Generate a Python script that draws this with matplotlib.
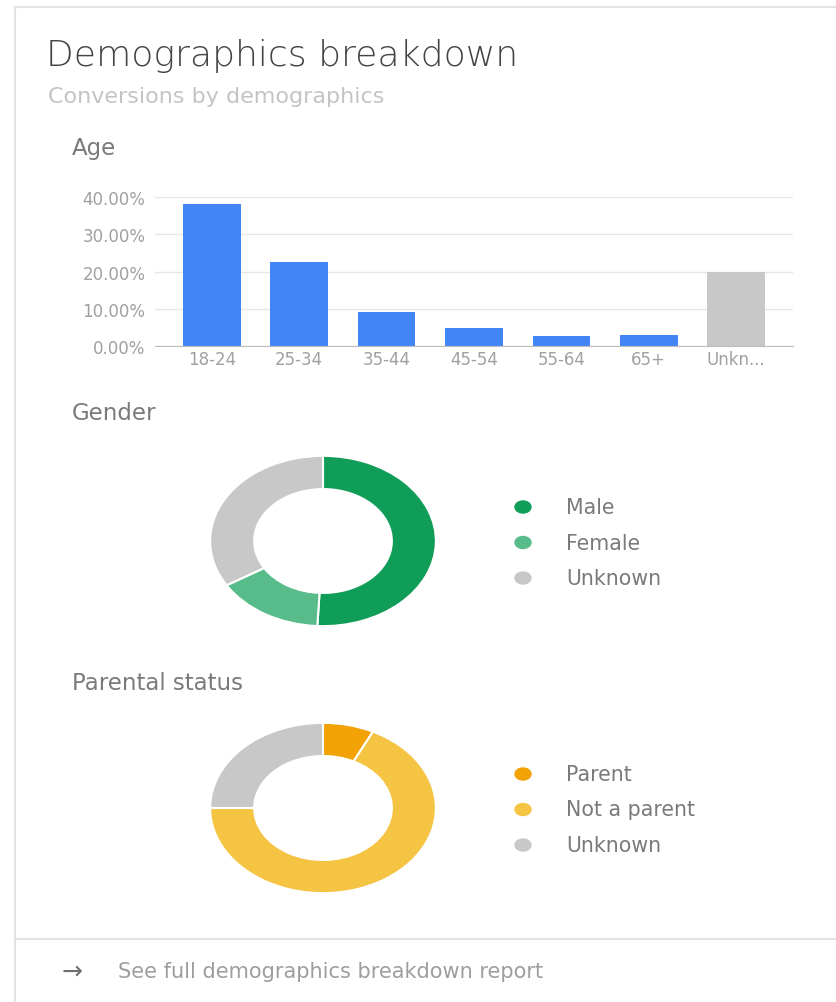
import matplotlib.pyplot as plt
from matplotlib.patches import Ellipse
import numpy as np

W, H = 836, 1003

# age bars
age_groups = ["18-24", "25-34", "35-44", "45-54", "55-64", "65+", "Unkn..."]
age_values = [38.0, 22.5, 9.1, 4.8, 2.7, 3.0, 20.0]
age_ticks = [0, 10, 20, 30, 40]

# gender donut
gender_labels = ["Male", "Female", "Unknown"]
gender_values = [50.8, 15.5, 33.7]

# parental donut
parent_labels = ["Parent", "Not a parent", "Unknown"]
parent_values = [7.3, 67.7, 25.0]

blue = "#4285f4"
grey = "#c8c8c8"
gender_colors = ["#0f9d58", "#57bb8a", grey]
parent_colors = ["#f2a205", "#f6c443", grey]

plt.rcParams['font.family'] = ['DejaVu Sans']

fig = plt.figure(figsize=(W / 100, H / 100), dpi=100)
fig.patch.set_facecolor("white")


def box(left, top, width, height):
    # pixel box (top-left origin) -> figure fraction rect
    return [left / W, 1 - (top + height) / H, width / W, height / H]


# overlay in pixel coordinates for card, titles, legends
ov = fig.add_axes([0, 0, 1, 1])
ov.set_xlim(0, W)
ov.set_ylim(H, 0)
ov.axis("off")

line_col = "#e3e3e3"
ov.plot([15, 15], [8, H], color=line_col, lw=1.5)
ov.plot([15, W], [8, 8], color=line_col, lw=1.5)
ov.plot([15, W], [940, 940], color=line_col, lw=1.5)

ov.text(46, 56, "Demographics breakdown", fontsize=26, color="#444444",
        fontweight="light", va="center")
ov.text(48, 97, "Conversions by demographics", fontsize=16, color="#c4c4c4",
        va="center")
ov.text(72, 148, "Age", fontsize=16.5, color="#7a7a7a", va="center")
ov.text(72, 414, "Gender", fontsize=16.5, color="#7a7a7a", va="center")
ov.text(72, 683, "Parental status", fontsize=16.5, color="#7a7a7a", va="center")

ov.text(72, 972, "\u2192", fontsize=18, color="#6e6e6e", va="center", ha="center")
ov.text(118, 972, "See full demographics breakdown report", fontsize=15,
        color="#9e9e9e", va="center")

# bar chart
ax = fig.add_axes(box(155, 198, 638, 149))
x = np.arange(len(age_groups))
bar_cols = [blue] * (len(age_groups) - 1) + [grey]
ax.bar(x, age_values, width=0.66, color=bar_cols, zorder=3)
ax.set_xlim(-0.65, len(age_groups) - 0.35)
ax.set_ylim(0, 40)
ax.set_yticks(age_ticks)
ax.set_yticklabels(["%.2f%%" % t for t in age_ticks])
ax.set_xticks(x)
ax.set_xticklabels(age_groups)
ax.tick_params(length=0, labelsize=12, labelcolor="#a0a0a0", pad=3)
ax.tick_params(axis="y", pad=7)
ax.grid(axis="y", color="#e6e6e6", lw=1, zorder=0)
for s in ["top", "right", "left"]:
    ax.spines[s].set_visible(False)
ax.spines["bottom"].set_color("#bdbdbd")
ax.spines["bottom"].set_zorder(4)


def donut(top, values, colors, labels):
    pax = fig.add_axes(box(209, top, 228, 172))
    pax.pie(values, colors=colors, startangle=90, counterclock=False,
            radius=1, wedgeprops=dict(width=0.39, edgecolor="white", lw=1.5))
    pax.set_aspect("auto")
    pax.set_xlim(-1.01, 1.01)
    pax.set_ylim(-1.01, 1.01)
    # legend rows next to the ring
    cy = top + 86
    for i, (lab, col) in enumerate(zip(labels, colors)):
        yy = cy - 34 + i * 35.5
        ov.add_patch(Ellipse((523, yy), 16, 12, color=col))
        ov.text(566, yy, lab, fontsize=14.8, color="#7a7a7a", va="center")


donut(456, gender_values, gender_colors, gender_labels)
donut(723, parent_values, parent_colors, parent_labels)

fig.savefig("out.png", dpi=100, facecolor="white")
